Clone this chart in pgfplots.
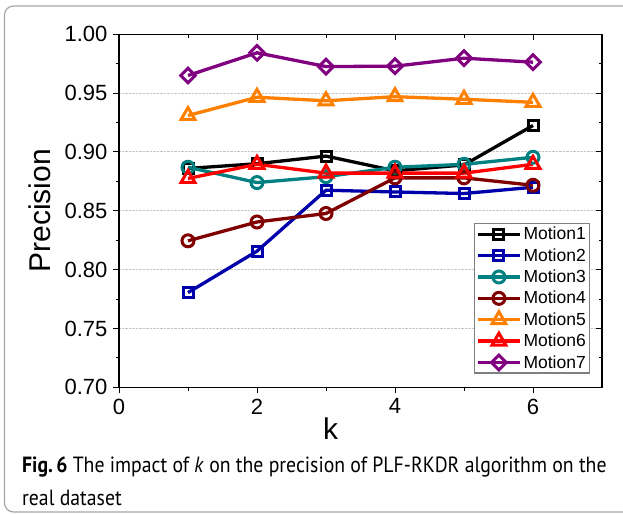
\documentclass[border=0pt]{standalone}
\usepackage{pgfplots}
\pgfplotsset{compat=1.18}
\usepackage{fontspec}
\setmainfont{Liberation Sans}
\newfontfamily\capfont{PT Sans}
\definecolor{mBlue}{RGB}{0,0,170}
\definecolor{mTeal}{RGB}{0,128,128}
\definecolor{mDRed}{RGB}{128,0,0}
\definecolor{mOrange}{RGB}{255,128,0}
\definecolor{mRed}{RGB}{255,0,0}
\definecolor{mPurple}{RGB}{128,0,128}
\begin{document}
\begin{tikzpicture}
\useasboundingbox (0,0) rectangle (623pt,-514pt);
\fill[white] (0,0) rectangle (623pt,-514pt);
\draw[gray!70, line width=1.2pt, rounded corners=9pt] (4.5pt,-6pt) rectangle (640pt,-512pt);
\pgfplotsset{
  base/.style={
    at={(119pt,-387.3pt)}, anchor=south west,
    scale only axis, width=483pt, height=353pt,
    xmin=0, xmax=7, ymin=0.70, ymax=1.00,
    xtick={0,2,4,6}, ytick={0.70,0.75,0.80,0.85,0.90,0.95,1.00},
    minor x tick num=1, minor y tick num=1,
    axis line style={line width=1.2pt},
    major tick length=6pt, minor tick length=3.5pt,
    every tick/.style={black, line width=1pt},
  },
  myplot/.style={line width=3.3pt, mark options={solid, fill=white, line width=3pt}},
}
\begin{axis}[base,
  xtick pos=left, ytick pos=left, tick align=outside,
  ymajorgrids, major grid style={densely dotted, gray!45, line width=1pt},
  /pgf/number format/assume math mode=true,
  ticklabel style={font=\fontsize{22}{26}\selectfont},
  yticklabel style={/pgf/number format/fixed, /pgf/number format/fixed zerofill, /pgf/number format/precision=2, xshift=-2pt},
  xticklabel style={yshift=-2pt},
  xlabel={k}, ylabel={Precision},
  label style={font=\fontsize{30}{34}\selectfont},
  xlabel style={yshift=4pt, xshift=-30pt},
  ylabel style={yshift=7pt},
  legend style={at={(0.975,0.4654)}, anchor=north east, draw=gray, line width=1.2pt,
    font=\fontsize{17.5}{20}\selectfont, inner sep=1.5pt, row sep=3.2pt, cells={anchor=west}},
  legend cell align=left,
  legend image code/.code={\draw[mark repeat=2,mark phase=2] plot coordinates {(0pt,0pt) (21pt,0pt) (42pt,0pt)};},
]
\addplot[myplot, black, mark=square, mark size=5pt] coordinates {(1,0.886) (2,0.890) (3,0.8965) (4,0.884) (5,0.889) (6,0.9225)};
\addlegendentry{Motion1}
\addplot[myplot, mBlue, mark=square, mark size=5pt] coordinates {(1,0.7805) (2,0.8157) (3,0.8675) (4,0.866) (5,0.8647) (6,0.870)};
\addlegendentry{Motion2}
\addplot[myplot, mTeal, mark=o, mark size=6pt] coordinates {(1,0.887) (2,0.874) (3,0.879) (4,0.887) (5,0.8895) (6,0.8955)};
\addlegendentry{Motion3}
\addplot[myplot, mDRed, mark=o, mark size=6pt] coordinates {(1,0.8245) (2,0.8405) (3,0.8477) (4,0.878) (5,0.878) (6,0.8717)};
\addlegendentry{Motion4}
\addplot[myplot, mOrange, mark=triangle, mark size=8pt] coordinates {(1,0.931) (2,0.9465) (3,0.9435) (4,0.947) (5,0.9448) (6,0.9422)};
\addlegendentry{Motion5}
\addplot[myplot, mRed, mark=triangle, mark size=8pt] coordinates {(1,0.8775) (2,0.8895) (3,0.882) (4,0.882) (5,0.882) (6,0.8895)};
\addlegendentry{Motion6}
\addplot[line width=3.3pt, mPurple, mark=square, mark size=5.2pt, mark options={solid, fill=white, line width=3pt, rotate=45}] coordinates {(1,0.965) (2,0.9843) (3,0.9726) (4,0.9729) (5,0.9797) (6,0.9763)};
\addlegendentry{Motion7}
\end{axis}
\begin{axis}[base,
  xtick pos=right, ytick pos=right, tick align=inside,
  xticklabels={}, yticklabels={},
]
\end{axis}
\node[anchor=base west, inner sep=0pt, font=\capfont\fontsize{22}{32.7}\selectfont] at (22pt,-472.3pt) {\scalebox{0.898}[1]{\textbf{Fig.\,6} The impact of \textit{k} on the precision of PLF-RKDR algorithm on the}};
\node[anchor=base west, inner sep=0pt, font=\capfont\fontsize{22}{32.7}\selectfont] at (22pt,-505pt) {\scalebox{0.898}[1]{real dataset}};
\end{tikzpicture}
\end{document}
